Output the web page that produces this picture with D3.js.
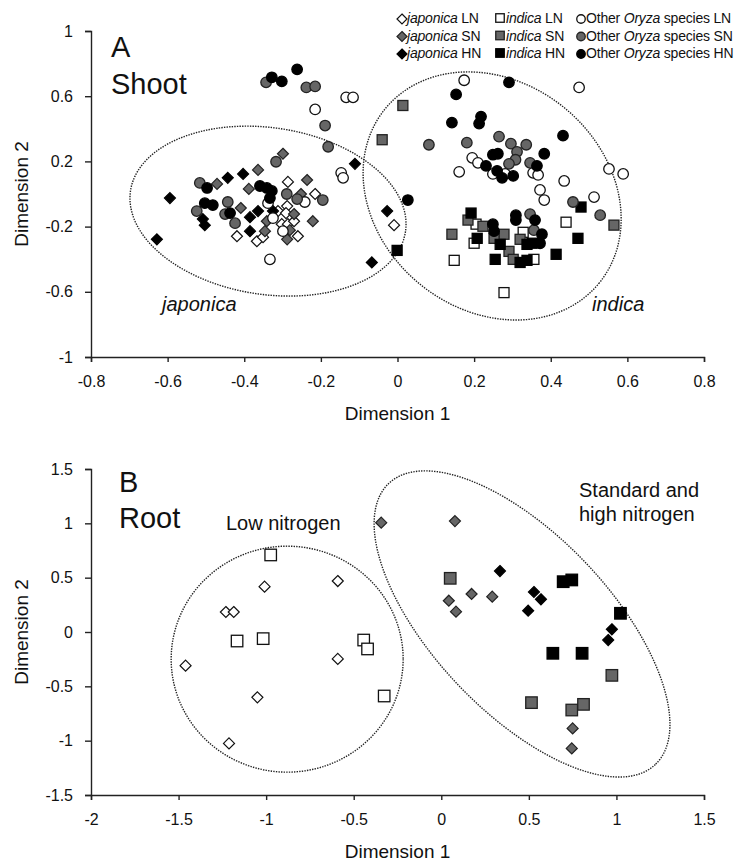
<!DOCTYPE html>
<html><head><meta charset="utf-8">
<script src="https://cdn.jsdelivr.net/npm/d3@7"></script>
<style>body{margin:0;background:#fff} text{font-family:"Liberation Sans",Arial,sans-serif;fill:#111}</style>
</head><body><svg id="c" width="736" height="867"></svg>
<script>
// ---------- DATA ----------
const shootXTicks = [-0.8,-0.6,-0.4,-0.2,0,0.2,0.4,0.6,0.8];
const shootYTicks = [1,0.6,0.2,-0.2,-0.6,-1];
const rootXTicks = [-2,-1.5,-1,-0.5,0,0.5,1,1.5];
const rootYTicks = [1.5,1,0.5,0,-0.5,-1,-1.5];

const shootJaponicaLN = [[-0.286,0.074],[-0.215,0.0],[-0.288,-0.074],[-0.312,-0.105],[-0.291,-0.117],[-0.302,-0.185],[-0.286,-0.185],[-0.27,-0.167],[-0.419,-0.259],[-0.367,-0.29],[-0.351,-0.265],[-0.26,-0.259],[-0.009,-0.191]];
const shootJaponicaSN = [[-0.299,0.247],[-0.364,0.148],[-0.471,0.062],[-0.236,0.086],[-0.388,0.031],[-0.252,0.0],[-0.409,-0.086],[-0.27,-0.123],[-0.341,-0.167],[-0.221,-0.167],[-0.346,-0.228],[-0.281,-0.222],[-0.288,-0.278]];
const shootJaponicaHN = [[-0.443,0.099],[-0.403,0.123],[-0.594,-0.025],[-0.508,-0.154],[-0.503,-0.191],[-0.628,-0.278],[-0.364,-0.105],[-0.385,-0.142],[-0.385,-0.228],[-0.325,-0.105],[-0.111,0.185],[-0.027,-0.105],[-0.067,-0.42]];
const shootIndicaLN = [[0.205,-0.185],[0.2,-0.302],[0.328,-0.235],[0.356,-0.401],[0.148,-0.407],[0.44,-0.173],[0.278,-0.605]];
const shootIndicaSN = [[0.014,0.543],[-0.04,0.333],[0.184,-0.16],[0.223,-0.198],[0.142,-0.247],[0.278,-0.247],[0.252,-0.272],[0.32,-0.278],[0.291,-0.352],[0.302,-0.401],[0.565,-0.191]];
const shootIndicaHN = [[0.192,-0.117],[0.208,-0.272],[0.268,-0.309],[0.338,-0.309],[0.351,-0.302],[0.32,-0.42],[0.338,-0.407],[0.255,-0.401],[0.414,-0.37],[0.471,-0.272],[0.479,-0.08],[-0.001,-0.346]];
const shootOtherLN = [[-0.215,0.519],[-0.134,0.593],[-0.116,0.593],[-0.147,0.13],[-0.142,0.099],[-0.242,-0.049],[-0.338,-0.056],[-0.325,-0.148],[-0.299,-0.228],[-0.333,-0.401],[0.174,0.698],[0.474,0.654],[0.195,0.222],[0.21,0.191],[0.161,0.136],[0.249,0.123],[0.281,0.123],[0.354,0.13],[0.367,0.117],[0.435,0.08],[0.552,0.154],[0.589,0.123],[0.372,0.025],[0.383,-0.037],[0.513,-0.019]];
const shootOtherSN = [[-0.343,0.685],[-0.238,0.654],[-0.215,0.66],[-0.189,0.42],[-0.181,0.29],[-0.317,0.198],[-0.516,0.068],[-0.289,0.0],[-0.262,-0.031],[-0.443,-0.049],[-0.524,-0.105],[-0.45,-0.123],[-0.424,-0.179],[-0.195,-0.037],[0.082,0.302],[0.181,0.315],[0.265,0.352],[0.296,0.309],[0.336,0.302],[0.312,0.259],[0.308,0.21],[0.291,0.185],[0.346,0.191],[0.458,-0.049],[0.529,-0.13],[0.346,-0.123],[0.356,-0.222]];
const shootOtherHN = [[-0.328,0.716],[-0.302,0.691],[-0.262,0.765],[-0.497,0.037],[-0.359,0.049],[-0.341,0.037],[-0.328,0.019],[-0.333,-0.025],[-0.503,-0.056],[-0.482,-0.068],[-0.437,-0.117],[0.291,0.685],[0.153,0.611],[0.142,0.438],[0.218,0.475],[0.213,0.432],[0.432,0.358],[0.383,0.247],[0.249,0.241],[0.262,0.247],[0.231,0.173],[0.364,0.173],[0.26,0.142],[0.273,0.099],[0.302,0.111],[0.027,-0.037],[0.249,-0.185],[0.252,-0.228],[0.309,-0.13],[0.309,-0.16],[0.359,-0.16],[0.377,-0.247],[0.372,-0.302]];

const rootJaponicaLN = [[-1.009,0.417],[-0.591,0.469],[-1.23,0.184],[-1.185,0.184],[-1.46,-0.31],[-0.591,-0.248],[-1.05,-0.601],[-1.212,-1.025]];
const rootJaponicaSN = [[-0.343,1.006],[0.078,1.021],[0.043,0.288],[0.084,0.187],[0.173,0.35],[0.291,0.325],[0.75,-0.887],[0.745,-1.071]];
const rootJaponicaHN = [[0.335,0.561],[0.496,0.196],[0.529,0.368],[0.569,0.301],[0.974,0.025],[0.953,-0.074]];
const rootIndicaLN = [[-0.974,0.709],[-1.166,-0.083],[-1.017,-0.061],[-0.443,-0.074],[-0.421,-0.156],[-0.326,-0.589]];
const rootIndicaSN = [[0.051,0.494],[0.515,-0.65],[0.745,-0.718],[0.812,-0.666],[0.974,-0.399]];
const rootIndicaHN = [[0.696,0.463],[0.745,0.479],[1.023,0.172],[0.637,-0.196],[0.804,-0.196]];

// cluster ellipse centres (data units)
const shootEllipseCentres = [[-0.338,-0.105],[0.247,-0.012]];
const rootEllipseCentres = [[-0.88,-0.25],[0.461,0.074]];

// ---------- STYLE ----------
const FILL = {LN:"#ffffff", SN:"#666666", HN:"#000000"};
const STROKE = {LN:"#111", SN:"#222", HN:"#000"};
const svg = d3.select("#c");

function marker(g, shape, lvl, x, y, s) {
  const f = FILL[lvl], st = STROKE[lvl];
  if (shape === "circle") {
    g.append("circle").attr("cx", x).attr("cy", y).attr("r", s/2)
      .attr("fill", f).attr("stroke", st).attr("stroke-width", 1.3);
  } else if (shape === "square") {
    g.append("rect").attr("x", x - s/2).attr("y", y - s/2).attr("width", s).attr("height", s)
      .attr("fill", f).attr("stroke", st).attr("stroke-width", 1.3);
  } else {
    const h = s/2;
    g.append("path").attr("d", `M${x},${y-h}L${x+h},${y}L${x},${y+h}L${x-h},${y}Z`)
      .attr("fill", f).attr("stroke", st).attr("stroke-width", 1.2);
  }
}

function ellipsePath(cx, cy, a, b, deg) {
  const t = deg * Math.PI / 180, pts = [];
  for (let i = 0; i < 240; i++) {
    const u = i / 240 * 2 * Math.PI;
    pts.push([cx + a*Math.cos(u)*Math.cos(t) - b*Math.sin(u)*Math.sin(t),
              cy + a*Math.cos(u)*Math.sin(t) + b*Math.sin(u)*Math.cos(t)]);
  }
  return d3.line().curve(d3.curveLinearClosed)(pts);
}

function axes(x, y, xt, yt, xTitleY) {
  const fmt = d => String(+(+d).toFixed(2));
  const gx = svg.append("g").attr("transform", `translate(0,${y.range()[0]})`)
    .call(d3.axisBottom(x).tickValues(xt).tickFormat(fmt).tickSizeOuter(0).tickSize(5).tickPadding(14));
  const gy = svg.append("g").attr("transform", `translate(${x.range()[0]},0)`)
    .call(d3.axisLeft(y).tickValues(yt).tickFormat(fmt).tickSizeOuter(0).tickSize(6).tickPadding(12));
  [gx, gy].forEach(g => {
    g.selectAll("path,line").attr("stroke", "#222").attr("stroke-width", 1.4);
    g.selectAll("text").attr("font-size", 16).attr("fill", "#111")
      .style("font-family", '"Liberation Sans",Arial,sans-serif');
  });
  svg.append("text").attr("x", (x.range()[0] + x.range()[1]) / 2).attr("y", xTitleY)
    .attr("text-anchor", "middle").attr("font-size", 19).text("Dimension 1");
  const cy = (y.range()[0] + y.range()[1]) / 2;
  svg.append("text").attr("transform", `translate(28,${cy}) rotate(-90)`)
    .attr("text-anchor", "middle").attr("font-size", 19).text("Dimension 2");
}

// ---------- PANEL A ----------
const xA = d3.scaleLinear().domain([-0.8, 0.8]).range([91, 704]);
const yA = d3.scaleLinear().domain([-1, 1]).range([357, 31]);
axes(xA, yA, shootXTicks, shootYTicks, 420);

const ellA = [[139, 83.4, 8.4], [138, 114, 39]];
shootEllipseCentres.forEach((c, i) => {
  svg.append("path").attr("d", ellipsePath(xA(c[0]), yA(c[1]), ...ellA[i]))
    .attr("fill", "none").attr("stroke", "#222").attr("stroke-width", 1.4)
    .attr("stroke-dasharray", "1.4,1.2");
});

const gA = svg.append("g");
const seriesA = [
  [shootJaponicaLN, "diamond", "LN"], [shootJaponicaSN, "diamond", "SN"], [shootJaponicaHN, "diamond", "HN"],
  [shootIndicaLN, "square", "LN"], [shootIndicaSN, "square", "SN"], [shootIndicaHN, "square", "HN"],
  [shootOtherLN, "circle", "LN"], [shootOtherSN, "circle", "SN"], [shootOtherHN, "circle", "HN"]
];
seriesA.forEach(([data, shape, lvl]) => data.forEach(d =>
  marker(gA, shape, lvl, xA(d[0]), yA(d[1]), shape === "circle" ? 10.5 : shape === "square" ? 10 : 11)));

svg.append("text").attr("x", 111).attr("y", 57).attr("font-size", 29).text("A");
svg.append("text").attr("x", 111).attr("y", 94).attr("font-size", 29).text("Shoot");
svg.append("text").attr("x", 162).attr("y", 311).attr("font-size", 20).attr("font-style", "italic").text("japonica");
svg.append("text").attr("x", 592).attr("y", 311).attr("font-size", 20).attr("font-style", "italic").text("indica");

// legend
const legRows = ["LN", "SN", "HN"];
const legCols = [
  {shape: "diamond", mx: 402, tx: 407, parts: [["japonica", true], [" ", false]]},
  {shape: "square", mx: 500, tx: 506, parts: [["indica", true], [" ", false]]},
  {shape: "circle", mx: 581, tx: 586, parts: [["Other ", false], ["Oryza", true], [" species ", false]]}
];
const gL = svg.append("g");
legCols.forEach(c => legRows.forEach((r, i) => {
  const cy = 18 + i * 17.5;
  marker(gL, c.shape, r, c.mx, cy + (c.shape === "square" ? 0 : 1), c.shape === "diamond" ? 10 : 8.5);
  const t = gL.append("text").attr("x", c.tx).attr("y", cy + 5).attr("font-size", 14).attr("letter-spacing", -0.2);
  c.parts.forEach(p => t.append("tspan").attr("font-style", p[1] ? "italic" : "normal").text(p[0]));
  t.append("tspan").text(r);
}));

// ---------- PANEL B ----------
const xB = d3.scaleLinear().domain([-2, 1.5]).range([91, 704]);
const yB = d3.scaleLinear().domain([-1.5, 1.5]).range([795, 469]);
axes(xB, yB, rootXTicks, rootYTicks, 858);

const ellB = [[116, 113, 0], [193.7, 88.3, 46.5]];
rootEllipseCentres.forEach((c, i) => {
  svg.append("path").attr("d", ellipsePath(xB(c[0]), yB(c[1]), ...ellB[i]))
    .attr("fill", "none").attr("stroke", "#222").attr("stroke-width", 1.4)
    .attr("stroke-dasharray", "1.4,1.2");
});

const gB = svg.append("g");
const seriesB = [
  [rootJaponicaLN, "diamond", "LN"], [rootJaponicaSN, "diamond", "SN"], [rootJaponicaHN, "diamond", "HN"],
  [rootIndicaLN, "square", "LN"], [rootIndicaSN, "square", "SN"], [rootIndicaHN, "square", "HN"]
];
seriesB.forEach(([data, shape, lvl]) => data.forEach(d =>
  marker(gB, shape, lvl, xB(d[0]), yB(d[1]), shape === "square" ? 11.5 : 11)));

svg.append("text").attr("x", 119).attr("y", 492).attr("font-size", 29).text("B");
svg.append("text").attr("x", 119).attr("y", 528).attr("font-size", 29).text("Root");
svg.append("text").attr("x", 226).attr("y", 530).attr("font-size", 20).text("Low nitrogen");
svg.append("text").attr("x", 579).attr("y", 497).attr("font-size", 20).text("Standard and");
svg.append("text").attr("x", 579).attr("y", 521).attr("font-size", 20).text("high nitrogen");
</script></body></html>
